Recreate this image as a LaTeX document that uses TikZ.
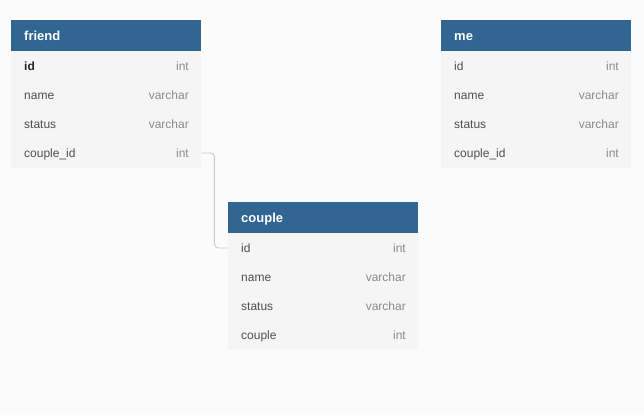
\documentclass[tikz,border=0pt]{standalone}
\usepackage{fontspec}
\setmainfont{Liberation Sans}
\definecolor{bg}{HTML}{FBFBFB}
\definecolor{hdr}{HTML}{316693}
\definecolor{body}{HTML}{F5F5F5}
\definecolor{fld}{HTML}{4F4F4F}
\definecolor{typ}{HTML}{8A8A8A}
\definecolor{lnk}{HTML}{C8C8C8}
\tikzset{
  hdrbox/.style={fill=hdr, draw=none, minimum width=190pt, minimum height=31pt, anchor=north west, inner sep=0pt},
  bodybox/.style={fill=body, draw=none, minimum width=190pt, minimum height=117pt, anchor=north west, inner sep=0pt},
  title/.style={anchor=west, inner sep=0pt, text height=9.5pt, text depth=0pt, text=white, font=\fontsize{13}{15}\selectfont\bfseries},
  field/.style={anchor=west, inner sep=0pt, text height=8.7pt, text depth=0pt, text=fld, font=\fontsize{12}{14}\selectfont},
  pkfield/.style={field, text=black!85, font=\fontsize{12}{14}\selectfont\bfseries},
  ftype/.style={anchor=east, inner sep=0pt, text height=8.7pt, text depth=0pt, text=typ, font=\fontsize{12}{14}\selectfont},
  link/.style={draw=lnk, line width=0.9pt, rounded corners=4pt}
}
\begin{document}
\begin{tikzpicture}[x=1pt,y=-1pt]
\fill[bg] (0,0) rectangle (644,415);
\useasboundingbox (0,0) rectangle (644,415);
% friend
\node[hdrbox] (fh) at (11,20) {};
\node[bodybox] (fb) at (11,51) {};
\node[title] (ft) at (24,36) {friend};
\node[pkfield] (f1) at (24,66) {id};
\node[ftype] (f1t) at (189,66) {int};
\node[field] (f2) at (24,95) {name};
\node[ftype] (f2t) at (189,95) {varchar};
\node[field] (f3) at (24,124) {status};
\node[ftype] (f3t) at (189,124) {varchar};
\node[field] (f4) at (24,153) {couple\_id};
\node[ftype] (f4t) at (189,153) {int};
% me
\node[hdrbox] (mh) at (441,20) {};
\node[bodybox] (mb) at (441,51) {};
\node[title] (mt) at (454,36) {me};
\node[field] (m1) at (454,66) {id};
\node[ftype] (m1t) at (619,66) {int};
\node[field] (m2) at (454,95) {name};
\node[ftype] (m2t) at (619,95) {varchar};
\node[field] (m3) at (454,124) {status};
\node[ftype] (m3t) at (619,124) {varchar};
\node[field] (m4) at (454,153) {couple\_id};
\node[ftype] (m4t) at (619,153) {int};
% couple
\node[hdrbox] (ch) at (228,202) {};
\node[bodybox] (cb) at (228,233) {};
\node[title] (ct) at (241,218) {couple};
\node[field] (c1) at (241,248) {id};
\node[ftype] (c1t) at (406,248) {int};
\node[field] (c2) at (241,277) {name};
\node[ftype] (c2t) at (406,277) {varchar};
\node[field] (c3) at (241,306) {status};
\node[ftype] (c3t) at (406,306) {varchar};
\node[field] (c4) at (241,335) {couple};
\node[ftype] (c4t) at (406,335) {int};
% connector
\coordinate (fa) at (fb.east |- 0,153);
\coordinate (ca) at (cb.west |- 0,248);
\draw[link] (fa) -- ++(13,0) |- (ca);
\end{tikzpicture}
\end{document}
